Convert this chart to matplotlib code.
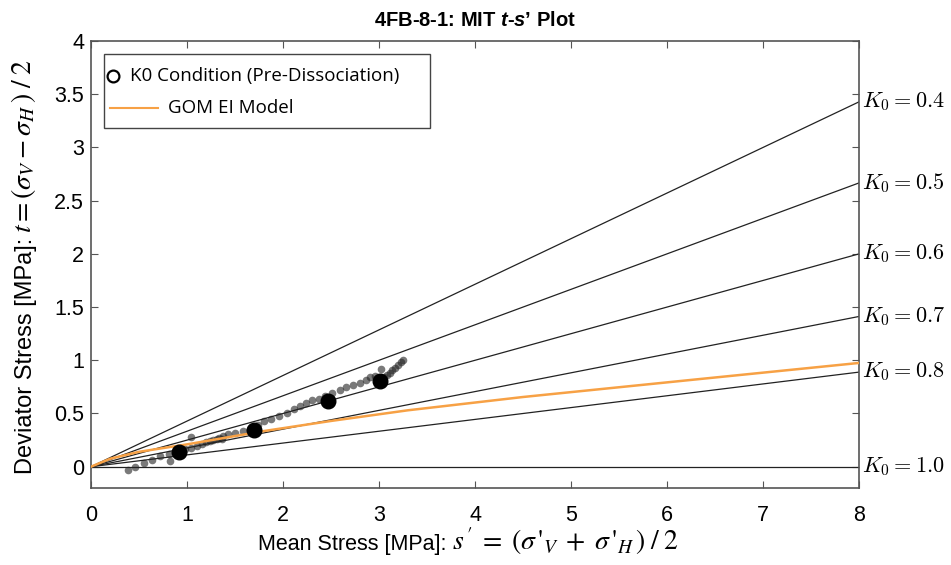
import numpy as np
import matplotlib
matplotlib.use("Agg")
from matplotlib import pyplot as plt
from matplotlib.lines import Line2D
from matplotlib.patches import Rectangle

plt.rcParams["font.family"] = ["Liberation Sans", "DejaVu Sans"]
plt.rcParams["mathtext.fontset"] = "custom"
plt.rcParams["mathtext.it"] = "Liberation Sans:italic:bold"
plt.rcParams["mathtext.rm"] = "Liberation Sans:bold"

# K0 reference lines
k0_values = [0.4, 0.5, 0.6, 0.7, 0.8, 1.0]
k0_labels = ["0.4", "0.5", "0.6", "0.7", "0.8", "1.0"]

# K0 condition points (pre-dissociation)
k0_s = [0.92, 1.70, 2.47, 3.01]
k0_t = [0.134, 0.345, 0.613, 0.805]

# GOM EI model curve
gom_s = [0.0, 0.2, 0.5, 1.0, 1.8, 2.5, 3.3, 4.5, 6.3, 8.0]
gom_t = [0.0, 0.075, 0.14, 0.21, 0.335, 0.43, 0.53, 0.655, 0.82, 0.975]

# measured test path (grey dots)
path_s = [0.39, 0.46, 0.55, 0.64, 0.72, 0.81, 0.82, 0.90, 0.98, 1.04, 1.04, 1.10,
          1.16, 1.20, 1.24, 1.27, 1.31, 1.33, 1.36, 1.38, 1.43, 1.50, 1.58, 1.66,
          1.74, 1.80, 1.88, 1.96, 2.04, 2.11, 2.18, 2.24, 2.30, 2.37, 2.44, 2.51,
          2.59, 2.66, 2.73, 2.80, 2.86, 2.91, 2.96, 3.02, 3.05, 3.08, 3.11, 3.14,
          3.17, 3.20, 3.23, 3.25]
path_t = [-0.035, -0.007, 0.035, 0.066, 0.097, 0.122, 0.05, 0.15, 0.17, 0.175, 0.28, 0.197,
          0.215, 0.228, 0.24, 0.247, 0.26, 0.27, 0.265, 0.285, 0.31, 0.32, 0.331, 0.354,
          0.39, 0.425, 0.45, 0.475, 0.504, 0.54, 0.573, 0.60, 0.623, 0.64, 0.66, 0.69,
          0.72, 0.75, 0.77, 0.79, 0.815, 0.84, 0.85, 0.917, 0.84, 0.86, 0.88, 0.905,
          0.93, 0.955, 0.98, 1.005]

legend_labels = ["K0 Condition (Pre-Dissociation)", "GOM EI Model"]
orange = "#F7A145"

W, H = 951, 565
fig = plt.figure(figsize=(W / 100, H / 100), dpi=100)
ax = fig.add_axes([0.0957, 0.1363, 0.8076, 0.7911])

s_line = np.array([0.0, 8.0])
for k0, lab in zip(k0_values, k0_labels):
    slope = (1 - k0) / (1 + k0)
    ax.plot(s_line, slope * s_line, color="#222222", lw=0.9, zorder=2)
    ax.text(8.03, slope * 8.0, r"$K_0 = " + lab + "$", math_fontfamily="cm",
            fontsize=16, va="center", ha="left", clip_on=False)

ax.plot(path_s, path_t, "o", color="#222222", alpha=0.6, ms=5.5, mec="none", zorder=3)
ax.plot(gom_s, gom_t, color=orange, lw=1.8, zorder=4)
ax.plot(k0_s, k0_t, "o", color="black", ms=10.5, zorder=5)

ax.set_xlim(0, 8)
ax.set_ylim(-0.2, 4)
ax.set_xticks(range(0, 9))
yt = np.arange(0, 4.01, 0.5)
ax.set_yticks(yt)
ax.set_yticklabels(["%g" % v for v in yt])
ax.tick_params(direction="in", top=True, right=True, labelsize=15.5, length=5,
               color="#555555")
ax.tick_params(axis="x", pad=12)
ax.tick_params(axis="y", pad=5)
for sp in ax.spines.values():
    sp.set_color("#555555")
    sp.set_linewidth(1.2)

# axis labels: plain text part and larger serif maths part
fig.text(447 / W, 1 - 550 / H, "Mean Stress [MPa]:", fontsize=15.5, ha="right",
         va="baseline")
fig.text(452 / W, 1 - 550 / H,
         r"$s\,'\;=\;(\sigma\,'_V\;+\;\sigma\,'_H\,)\;/\;2$",
         fontsize=20, ha="left", va="baseline", math_fontfamily="stix")
fig.text(26 / W, 1 - 238 / H, "Deviator Stress [MPa]:", fontsize=17, rotation=90,
         ha="center", va="top")
fig.text(24 / W, 1 - 233 / H, r"$t = (\sigma_V - \sigma_H\,)\;/\;2$", fontsize=20,
         rotation=90, ha="center", va="bottom", math_fontfamily="stix")

ax.set_title(r"4FB-8-1: MIT $t$-$s$’ Plot", fontsize=14.5, fontweight="bold", pad=11)

# legend box
tr = ax.transAxes
ax.add_patch(Rectangle((0.0169, 0.805), 0.424, 0.166, transform=tr, facecolor="white",
                       edgecolor="#444444", lw=1.0, zorder=6))
ax.add_line(Line2D([0.0286], [0.922], transform=tr, marker="o", ls="none", mfc="white",
                   mec="black", mew=1.6, ms=8.5, zorder=7))
ax.add_line(Line2D([0.0247, 0.0872], [0.850, 0.850], transform=tr, color=orange,
                   lw=1.5, zorder=7))
ax.text(0.0508, 0.922, legend_labels[0], transform=tr, va="center", ha="left",
        family="Open Sans", fontsize=13.5, zorder=7)
ax.text(0.1003, 0.850, legend_labels[1], transform=tr, va="center", ha="left",
        family="Open Sans", fontsize=13.5, zorder=7)

fig.savefig("out.png", dpi=100)
